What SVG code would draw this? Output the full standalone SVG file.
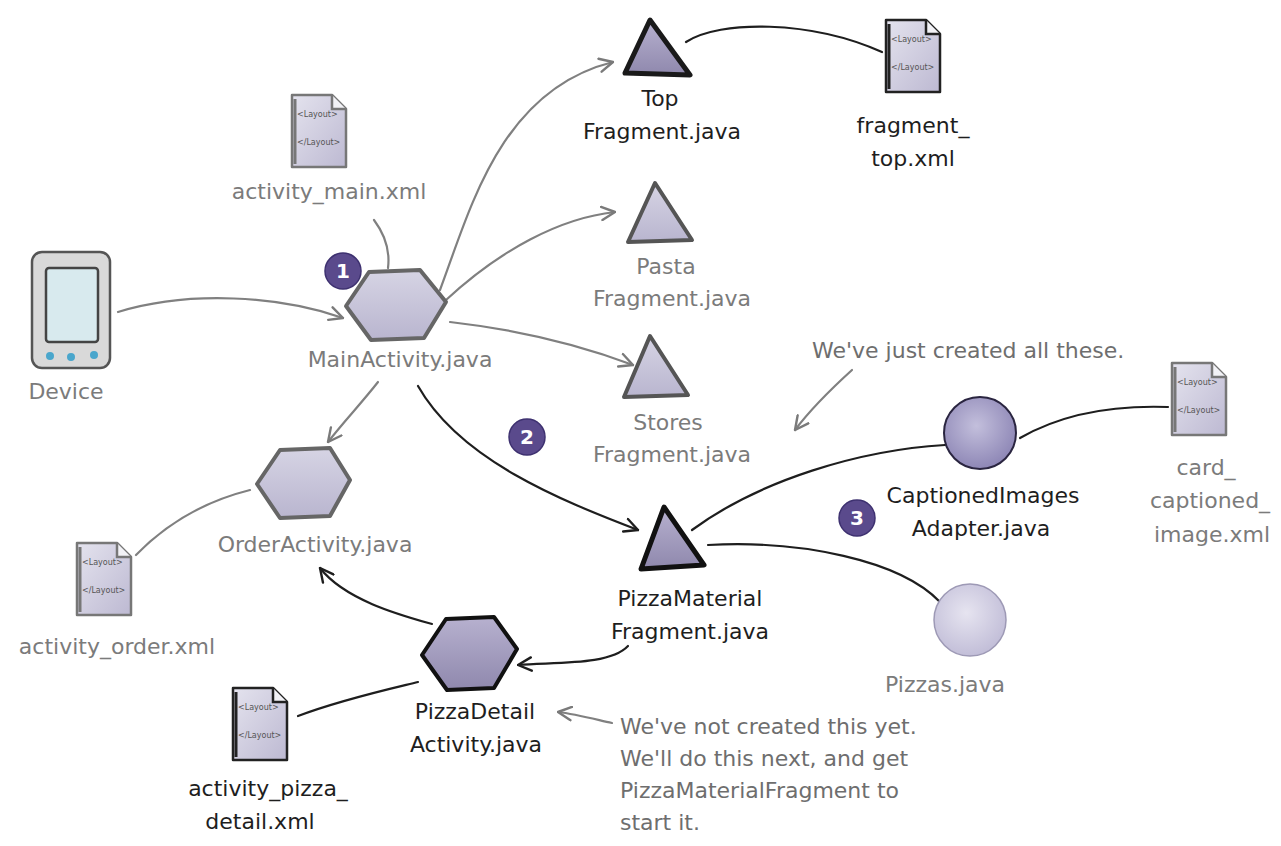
<svg xmlns="http://www.w3.org/2000/svg" width="1281" height="846" viewBox="0 0 1281 846">
  <defs>
    <linearGradient id="lav" x1="0" y1="0" x2="0" y2="1">
      <stop offset="0" stop-color="#d6d4e4"/>
      <stop offset="1" stop-color="#b9b5cf"/>
    </linearGradient>
    <linearGradient id="lavDark" x1="0" y1="0" x2="0" y2="1">
      <stop offset="0" stop-color="#b7b1cf"/>
      <stop offset="1" stop-color="#8f88ad"/>
    </linearGradient>
    <radialGradient id="ball" cx="0.45" cy="0.4" r="0.6">
      <stop offset="0" stop-color="#c3bfdc"/>
      <stop offset="1" stop-color="#8e87b6"/>
    </radialGradient>
    <radialGradient id="ballLight" cx="0.45" cy="0.4" r="0.6">
      <stop offset="0" stop-color="#e6e4f0"/>
      <stop offset="1" stop-color="#c2bed8"/>
    </radialGradient>
    <linearGradient id="doc" x1="0" y1="0" x2="1" y2="1">
      <stop offset="0" stop-color="#e4e3ee"/>
      <stop offset="1" stop-color="#bdb9d2"/>
    </linearGradient>
    <marker id="arrG" viewBox="0 0 12 12" refX="11" refY="6" markerWidth="16" markerHeight="16" markerUnits="userSpaceOnUse" orient="auto">
      <path d="M1,1 L11,6 L1,11" fill="none" stroke="#7a7a7a" stroke-width="1.8" stroke-linecap="round" stroke-linejoin="round"/>
    </marker>
    <marker id="arrK" viewBox="0 0 12 12" refX="11" refY="6" markerWidth="16" markerHeight="16" markerUnits="userSpaceOnUse" orient="auto">
      <path d="M1,1 L11,6 L1,11" fill="none" stroke="#1e1e1e" stroke-width="1.8" stroke-linecap="round" stroke-linejoin="round"/>
    </marker>
    <!-- layout file icon: page with folded corner -->
    <g id="docIcon">
      <path d="M0,0 H40 L54,14 V72 H0 Z" fill="url(#doc)" stroke-linejoin="round"/>
      <path d="M40,0 V14 H54" fill="#f2f2f6"/>
      <path d="M3,4 V69" fill="none" stroke-width="3"/>
      <text x="5" y="22" class="tag">&lt;Layout&gt;</text>
      <text x="5" y="50" class="tag">&lt;/Layout&gt;</text>
    </g>
  </defs>
  <style>
    text { font-family: "DejaVu Sans", "Liberation Sans", sans-serif; }
    .lbl { font-size: 22px; text-anchor: middle; }
    .gray { fill: #7b7b7b; }
    .dark { fill: #1e1e1e; }
    .note { font-size: 22px; fill: #6e6e6e; }
    .tag { font-size: 8px; fill: #555; stroke: none; font-family: "DejaVu Sans", sans-serif; }
    .docG { stroke: #777; stroke-width: 2.5; }
    .docK { stroke: #222; stroke-width: 2.5; }
    .cG { fill: none; stroke: #808080; stroke-width: 2.2; stroke-linecap: round; }
    .cK { fill: none; stroke: #1e1e1e; stroke-width: 2.2; stroke-linecap: round; }
    .badge { fill: #5a4a8c; stroke: #3e3170; stroke-width: 1.5; }
    .badgeNum { font-family: "DejaVu Sans", sans-serif; font-weight: bold; font-size: 20px; fill: #fff; text-anchor: middle; }
  </style>

  <rect width="1281" height="846" fill="#ffffff"/>

  <!-- connectors -->
  <g id="connectors">
    <path class="cG" d="M118,312 C190,290 280,296 343,318" marker-end="url(#arrG)"/>
    <path class="cG" d="M374,220 C386,236 390,252 388,268"/>
    <path class="cG" d="M440,290 C470,210 500,90 613,62" marker-end="url(#arrG)"/>
    <path class="cG" d="M446,300 C500,250 560,218 615,212" marker-end="url(#arrG)"/>
    <path class="cG" d="M450,322 C520,330 580,345 633,365" marker-end="url(#arrG)"/>
    <path class="cG" d="M378,382 C360,405 345,420 328,442" marker-end="url(#arrG)"/>
    <path class="cK" d="M418,386 C460,460 560,500 638,530" marker-end="url(#arrK)"/>
    <path class="cK" d="M686,42 C720,20 810,20 882,52"/>
    <path class="cG" d="M136,555 C170,520 210,500 250,490"/>
    <path class="cK" d="M432,624 C400,615 345,600 320,568" marker-end="url(#arrK)"/>
    <path class="cK" d="M628,646 C610,665 560,662 518,665" marker-end="url(#arrK)"/>
    <path class="cK" d="M298,716 C340,700 385,690 418,682"/>
    <path class="cK" d="M692,530 C760,480 860,450 945,445"/>
    <path class="cK" d="M708,545 C800,540 900,560 940,602"/>
    <path class="cK" d="M1020,438 C1060,415 1110,405 1168,407"/>
    <path class="cG" d="M852,370 C830,390 810,410 795,430" marker-end="url(#arrG)"/>
    <path class="cG" d="M612,723 C590,718 575,714 558,712" marker-end="url(#arrG)"/>
  </g>

  <!-- Device -->
  <g id="device">
    <rect x="32" y="252" width="78" height="116" rx="10" fill="#d9d9d9" stroke="#555" stroke-width="2.5"/>
    <rect x="46" y="268" width="52" height="74" rx="3" fill="#d8eaee" stroke="#444" stroke-width="2.5"/>
    <circle cx="50" cy="356" r="4" fill="#4aa6cc"/>
    <circle cx="71" cy="357" r="4" fill="#4aa6cc"/>
    <circle cx="94" cy="355" r="4" fill="#4aa6cc"/>
    <text class="lbl gray" x="66" y="399">Device</text>
  </g>

  <!-- activity_main.xml -->
  <g id="activity-main-xml">
    <use href="#docIcon" x="292" y="95" class="docG"/>
    <text class="lbl gray" x="329" y="199">activity_main.xml</text>
  </g>

  <!-- MainActivity -->
  <g id="main-activity">
    <polygon points="346,306 369,272 420,270 446,302 424,338 371,340" fill="url(#lav)" stroke="#666" stroke-width="4" stroke-linejoin="round"/>
    <circle class="badge" cx="343" cy="271" r="18"/>
    <text class="badgeNum" x="343" y="278">1</text>
    <text class="lbl gray" x="400" y="367">MainActivity.java</text>
  </g>

  <!-- TopFragment -->
  <g id="top-fragment">
    <polygon points="650,20 690,75 625,73" fill="url(#lavDark)" stroke="#1a1a1a" stroke-width="5" stroke-linejoin="round"/>
    <text class="lbl dark" x="660" y="106">Top</text>
    <text class="lbl dark" x="662" y="139">Fragment.java</text>
  </g>

  <!-- fragment_top.xml -->
  <g id="fragment-top-xml">
    <use href="#docIcon" x="886" y="20" class="docK"/>
    <text class="lbl dark" x="913" y="133">fragment_</text>
    <text class="lbl dark" x="913" y="166">top.xml</text>
  </g>

  <!-- PastaFragment -->
  <g id="pasta-fragment">
    <polygon points="655,183 692,240 628,242" fill="url(#lav)" stroke="#555" stroke-width="4" stroke-linejoin="round"/>
    <text class="lbl gray" x="666" y="274">Pasta</text>
    <text class="lbl gray" x="672" y="306">Fragment.java</text>
  </g>

  <!-- StoresFragment -->
  <g id="stores-fragment">
    <polygon points="650,336 688,395 624,397" fill="url(#lav)" stroke="#555" stroke-width="4" stroke-linejoin="round"/>
    <text class="lbl gray" x="668" y="430">Stores</text>
    <text class="lbl gray" x="672" y="462">Fragment.java</text>
  </g>

  <!-- note: created -->
  <g id="note-created">
    <text class="note" x="812" y="358">We've just created all these.</text>
  </g>

  <!-- CaptionedImagesAdapter -->
  <g id="captioned-images-adapter">
    <circle cx="980" cy="433" r="36" fill="url(#ball)" stroke="#2a2540" stroke-width="2"/>
    <circle class="badge" cx="857" cy="518" r="18"/>
    <text class="badgeNum" x="857" y="525">3</text>
    <text class="lbl dark" x="983" y="503">CaptionedImages</text>
    <text class="lbl dark" x="981" y="536">Adapter.java</text>
  </g>

  <!-- card_captioned_image.xml -->
  <g id="card-captioned-image-xml">
    <use href="#docIcon" x="1172" y="363" class="docG"/>
    <text class="lbl gray" x="1206" y="475">card_</text>
    <text class="lbl gray" x="1210" y="508">captioned_</text>
    <text class="lbl gray" x="1212" y="542">image.xml</text>
  </g>

  <!-- OrderActivity -->
  <g id="order-activity">
    <polygon points="257,484 280,450 330,448 350,480 330,516 280,518" fill="url(#lav)" stroke="#666" stroke-width="4" stroke-linejoin="round"/>
    <text class="lbl gray" x="315" y="552">OrderActivity.java</text>
  </g>

  <!-- activity_order.xml -->
  <g id="activity-order-xml">
    <use href="#docIcon" x="77" y="543" class="docG"/>
    <text class="lbl gray" x="117" y="654">activity_order.xml</text>
  </g>

  <!-- badge 2 -->
  <g id="step-2">
    <circle class="badge" cx="527" cy="437" r="18"/>
    <text class="badgeNum" x="527" y="444">2</text>
  </g>

  <!-- PizzaMaterialFragment -->
  <g id="pizza-material-fragment">
    <polygon points="664,507 704,565 641,569" fill="url(#lavDark)" stroke="#111" stroke-width="5" stroke-linejoin="round"/>
    <text class="lbl dark" x="690" y="606">PizzaMaterial</text>
    <text class="lbl dark" x="690" y="639">Fragment.java</text>
  </g>

  <!-- Pizzas -->
  <g id="pizzas">
    <circle cx="970" cy="620" r="36" fill="url(#ballLight)" stroke="#9d99b5" stroke-width="1.5"/>
    <text class="lbl gray" x="945" y="692">Pizzas.java</text>
  </g>

  <!-- PizzaDetailActivity -->
  <g id="pizza-detail-activity">
    <polygon points="422,655 446,619 494,617 517,649 494,688 447,690" fill="url(#lavDark)" stroke="#111" stroke-width="4" stroke-linejoin="round"/>
    <text class="lbl dark" x="475" y="719">PizzaDetail</text>
    <text class="lbl dark" x="476" y="752">Activity.java</text>
  </g>

  <!-- activity_pizza_detail.xml -->
  <g id="activity-pizza-detail-xml">
    <use href="#docIcon" x="233" y="688" class="docK"/>
    <text class="lbl dark" x="268" y="796">activity_pizza_</text>
    <text class="lbl dark" x="260" y="829">detail.xml</text>
  </g>

  <!-- note: not yet created -->
  <g id="note-not-created">
    <text class="note" x="620" y="734">We've not created this yet.</text>
    <text class="note" x="620" y="766">We'll do this next, and get</text>
    <text class="note" x="620" y="798">PizzaMaterialFragment to</text>
    <text class="note" x="620" y="830">start it.</text>
  </g>
</svg>
